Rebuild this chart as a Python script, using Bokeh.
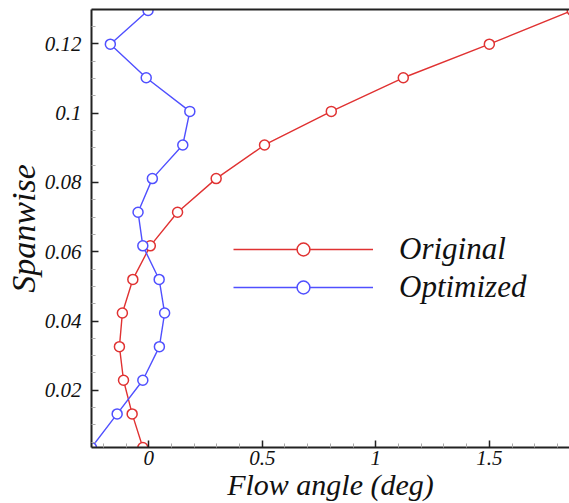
from bokeh.plotting import figure
from bokeh.models import Range1d, FixedTicker, LinearAxis, Legend, LegendItem
from bokeh.embed import file_html
from bokeh.resources import INLINE

# ---- data ----
spanwise = [0.0035, 0.0132, 0.0229, 0.0326, 0.0423, 0.0520, 0.0617,
            0.0714, 0.0811, 0.0908, 0.1005, 0.1102, 0.1199, 0.1296]
original = [-0.026, -0.073, -0.111, -0.129, -0.116, -0.070, 0.007,
            0.127, 0.297, 0.510, 0.804, 1.121, 1.500, 1.865]
optimized = [-0.252, -0.139, -0.026, 0.047, 0.070, 0.046, -0.026,
             -0.047, 0.016, 0.150, 0.181, -0.011, -0.169, -0.003]

x_ticks = [0, 0.5, 1, 1.5]
x_tick_labels = ["0", "0.5", "1", "1.5"]
x_minor = [-0.2, -0.1, 0.1, 0.2, 0.3, 0.4, 0.6, 0.7, 0.8, 0.9,
           1.1, 1.2, 1.3, 1.4, 1.6, 1.7, 1.8]
y_ticks = [0.02, 0.04, 0.06, 0.08, 0.1, 0.12]
y_tick_labels = ["0.02", "0.04", "0.06", "0.08", "0.1", "0.12"]
y_minor = [0.005, 0.01, 0.015, 0.025, 0.03, 0.035, 0.045, 0.05, 0.055,
           0.065, 0.07, 0.075, 0.085, 0.09, 0.095, 0.105, 0.11, 0.115, 0.125]

RED = "#e03232"
BLUE = "#5050ff"
FONT = "'Liberation Serif', 'Times New Roman', serif"

p = figure(width=569, height=503, output_backend="svg", toolbar_location=None,
           x_range=Range1d(-0.252, 1.853), y_range=Range1d(0.0035, 0.1299),
           min_border_left=91, min_border_right=0, min_border_top=9,
           min_border_bottom=56)
p.outline_line_color = None
p.xgrid.visible = False
p.ygrid.visible = False
p.background_fill_color = "white"
p.border_fill_color = "white"

r1 = p.line(original, spanwise, line_color=RED, line_width=1.4)
s1 = p.scatter(original, spanwise, size=10, fill_color="white",
               line_color=RED, line_width=1.5)
r2 = p.line(optimized, spanwise, line_color=BLUE, line_width=1.4)
s2 = p.scatter(optimized, spanwise, size=10, fill_color="white",
               line_color=BLUE, line_width=1.5)

def style_axis(ax, ticks, minor, labels):
    ax.ticker = FixedTicker(ticks=ticks, minor_ticks=minor)
    ax.major_label_overrides = {t: l for t, l in zip(ticks, labels)}
    ax.axis_line_width = 2
    ax.axis_line_color = "#222222"
    ax.major_tick_in = 7
    ax.major_tick_out = 0
    ax.major_tick_line_width = 1.5
    ax.major_tick_line_color = "#222222"
    ax.minor_tick_in = 4
    ax.minor_tick_out = 0
    ax.minor_tick_line_color = "#aaaaaa"
    ax.major_label_text_font = FONT
    ax.major_label_text_font_style = "italic"
    ax.major_label_text_font_size = "21px"
    ax.major_label_text_color = "#111111"
    ax.axis_label_text_font = FONT
    ax.axis_label_text_font_style = "italic"
    ax.axis_label_text_color = "#111111"

xa = p.xaxis[0]
style_axis(xa, x_ticks, x_minor, x_tick_labels)
xa.axis_label = "Flow angle (deg)"
xa.axis_label_text_font_size = "30px"
xa.major_label_standoff = 3
xa.axis_label_standoff = 0

ya = p.yaxis[0]
style_axis(ya, y_ticks, y_minor, y_tick_labels)
ya.axis_label = "Spanwise"
ya.axis_label_text_font_size = "34px"
ya.major_label_standoff = 10
ya.axis_label_standoff = 0

top = LinearAxis(ticker=FixedTicker(ticks=[]), axis_line_width=2,
                 axis_line_color="#222222", major_tick_in=0, major_tick_out=0,
                 minor_tick_in=0, minor_tick_out=0, major_label_standoff=0)
p.add_layout(top, "above")

legend = Legend(items=[LegendItem(label="Original", renderers=[r1, s1]),
                       LegendItem(label="Optimized", renderers=[r2, s2])],
                location=(142, 142), glyph_width=140, glyph_height=32,
                label_height=32, label_standoff=26, spacing=2, padding=0,
                margin=0, border_line_color=None, background_fill_alpha=0,
                label_text_font=FONT, label_text_font_style="italic",
                label_text_font_size="31px", label_text_color="#111111")
p.add_layout(legend)

open("out.html", "w").write(file_html(p, INLINE))
